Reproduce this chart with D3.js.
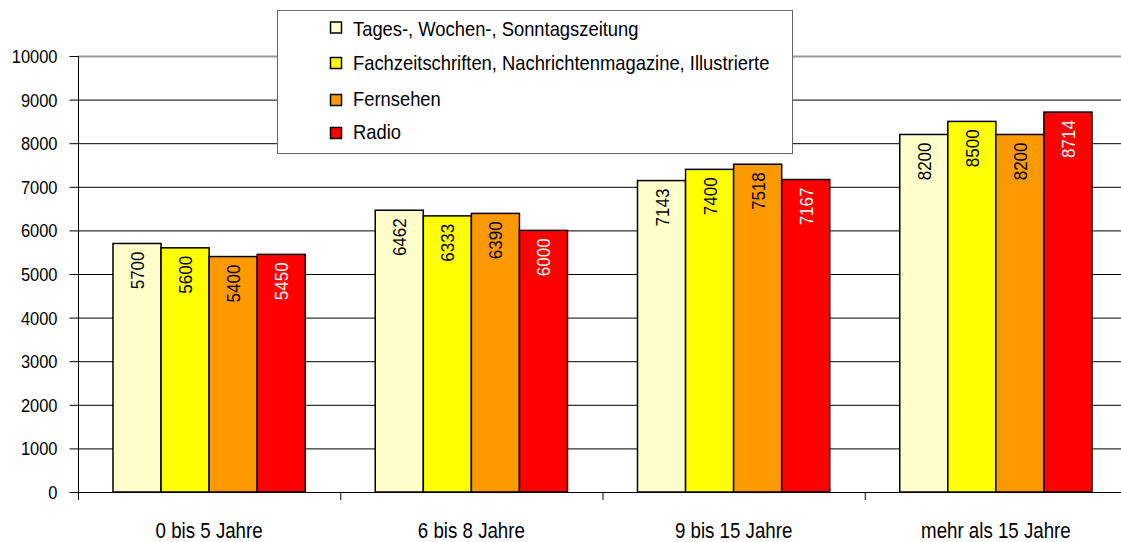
<!DOCTYPE html>
<html><head><meta charset="utf-8">
<script src="https://cdn.jsdelivr.net/npm/d3@7"></script>
<style>body{margin:0;background:#fff}svg{display:block}text{font-family:"Liberation Sans",Arial,sans-serif}</style>
</head><body><svg id="c" width="1121" height="542"></svg>
<script>
const categories = ["0 bis 5 Jahre","6 bis 8 Jahre","9 bis 15 Jahre","mehr als 15 Jahre"];
const seriesNames = ["Tages-, Wochen-, Sonntagszeitung","Fachzeitschriften, Nachrichtenmagazine, Illustrierte","Fernsehen","Radio"];
const tageszeitung = [5700,6462,7143,8200];
const fachzeitschriften = [5600,6333,7400,8500];
const fernsehen = [5400,6390,7518,8200];
const radio = [5450,6000,7167,8714];
const yTicks = [0,1000,2000,3000,4000,5000,6000,7000,8000,9000,10000];
const colors = ["#FFFFCC","#FFFF00","#FF9900","#FF0000"];
const labelColors = ["#000","#000","#000","#fff"];

(function(){
const series = [tageszeitung, fachzeitschriften, fernsehen, radio];
const svg = d3.select("#c");
const mLeft = 78, mTop = 56, mBottom = 492, mRight = 1127;
const x = d3.scaleBand().domain(categories).range([mLeft, mRight]).paddingInner(0).paddingOuter(0);
const y = d3.scaleLinear().domain([0,10000]).range([mBottom, mTop]);
const groupPad = 35;
const xs = d3.scaleBand().domain(d3.range(4)).range([groupPad, x.bandwidth()-groupPad]);

// grid
svg.append("g").selectAll("line").data(yTicks).join("line")
  .attr("x1", mLeft).attr("x2", mRight)
  .attr("y1", d=>y(d)+0.5).attr("y2", d=>y(d)+0.5)
  .attr("stroke", d=> d===10000 ? "#999" : "#000").attr("stroke-width", d=> d===10000?2:1);

// y axis
const ya = svg.append("g").attr("transform",`translate(${mLeft+0.5},0)`)
  .call(d3.axisLeft(y).tickValues(yTicks).tickSize(9).tickPadding(0).tickFormat(d3.format("d")));
ya.select(".domain").remove();
ya.append("line").attr("x1",0).attr("x2",0).attr("y1",mTop).attr("y2",mBottom).attr("stroke","#000");
ya.selectAll(".tick line").attr("stroke","#000");
ya.selectAll(".tick text").attr("x",null).attr("dy",null)
  .attr("transform","translate(-21,6.5) scale(0.89,1)")
  .attr("font-size",18.5).attr("fill","#000").attr("text-anchor","end")
  .style("font-family","Liberation Sans, Arial, sans-serif");

// bars
const groups = svg.append("g").selectAll("g").data(categories).join("g")
  .attr("transform", d=>`translate(${x(d)},0)`);
groups.each(function(cat, ci){
  const g = d3.select(this);
  series.forEach((s, si)=>{
    const v = s[ci];
    g.append("rect").attr("x", xs(si)).attr("width", xs.bandwidth())
      .attr("y", y(v)).attr("height", y(0)-y(v))
      .attr("fill", colors[si]).attr("stroke","#000").attr("stroke-width",1.5);
    const cx = xs(si)+xs.bandwidth()/2;
    g.append("text").attr("transform",`translate(${cx+7},${y(v)+8}) rotate(-90) scale(0.92,1)`)
      .attr("text-anchor","end").attr("font-size",18.5).attr("fill",labelColors[si])
      .text(v);
  });
});

// x axis
svg.append("line").attr("x1",mLeft).attr("x2",mRight).attr("y1",mBottom+0.5).attr("y2",mBottom+0.5).attr("stroke","#000");
svg.append("g").selectAll("line").data(d3.range(5)).join("line")
  .attr("x1", i=>mLeft+i*x.bandwidth()+0.5).attr("x2", i=>mLeft+i*x.bandwidth()+0.5)
  .attr("y1", mBottom).attr("y2", mBottom+8).attr("stroke","#000");
svg.append("g").selectAll("text").data(categories).join("text")
  .attr("transform", d=>`translate(${x(d)+x.bandwidth()/2},538) scale(0.85,1)`)
  .attr("text-anchor","middle").attr("font-size",22).text(d=>d);

// legend
const lg = svg.append("g");
lg.append("rect").attr("x",277.5).attr("y",10.5).attr("width",515).attr("height",143)
  .attr("fill","#fff").attr("stroke","#666").attr("stroke-width",1);
const rowY = [27.5,63,100,133];
const baseY = [36,70,106,139];
seriesNames.forEach((n,i)=>{
  lg.append("rect").attr("x",330.5).attr("y",rowY[i]-5.5).attr("width",11).attr("height",11)
    .attr("fill",colors[i]).attr("stroke","#000").attr("stroke-width",1.5);
  lg.append("text").attr("transform",`translate(353,${baseY[i]}) scale(0.875,1)`)
    .attr("font-size",21).text(n);
});
})();
</script></body></html>
